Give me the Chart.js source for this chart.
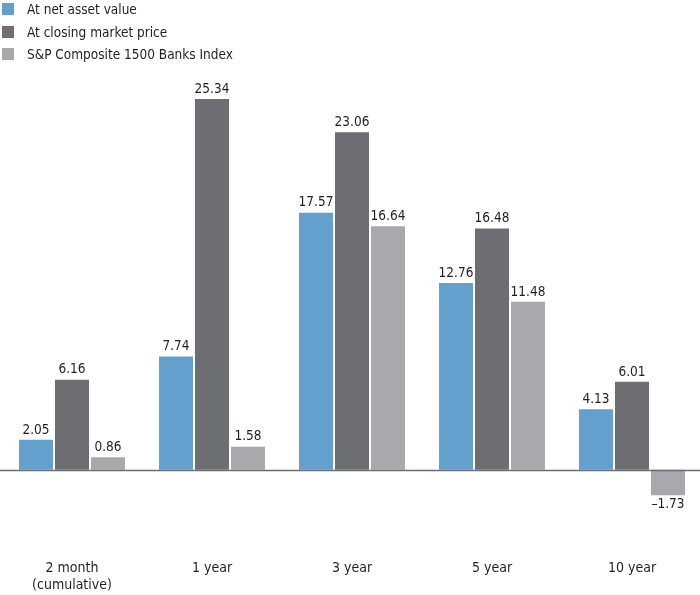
<!DOCTYPE html>
<html>
<head>
<meta charset="utf-8">
<script src="https://cdn.jsdelivr.net/npm/chart.js@4.4.1/dist/chart.umd.min.js"></script>
<style>
  body { margin: 0; overflow: hidden; background: #fff; }
  #wrap { position: relative; width: 700px; height: 595px; overflow: hidden; }
  #mycanvas { position: absolute; left: 0; top: 0; }
  #legend { position: absolute; left: 2px; top: 0; font-family: "DejaVu Sans Condensed", "Liberation Sans", sans-serif; font-size: 13.5px; color: #231f20; }
  #legend div { height: 22.5px; line-height: 18px; white-space: nowrap; }
  #legend span { display: inline-block; width: 12px; height: 12px; margin-right: 13px; vertical-align: -1px; }
</style>
</head>
<body>
<div id="wrap">
  <canvas id="mycanvas" width="702" height="595"></canvas>
  <div id="legend"></div>
</div>
<script>
var categories = [["2 month", "(cumulative)"], "1 year", "3 year", "5 year", "10 year"];
var seriesNames = ["At net asset value", "At closing market price", "S&P Composite 1500 Banks Index"];
var navValues = [2.05, 7.74, 17.57, 12.76, 4.13];
var marketValues = [6.16, 25.34, 23.06, 16.48, 6.01];
var indexValues = [0.86, 1.58, 16.64, 11.48, -1.73];
var colors = ["#63a0ce", "#6d6e71", "#a7a9ac"];

var legendHtml = "";
for (var i in seriesNames) {
	legendHtml += '<div><span style="background:' + colors[i] + '"></span>' + seriesNames[i].replace("&", "&amp;") + '</div>';
}
document.getElementById("legend").innerHTML = legendHtml;

var fontFamily = '"DejaVu Sans Condensed", "Liberation Sans", sans-serif';

// value labels above (or below) each bar
var valueLabels = {
	id: "valueLabels",
	afterDatasetsDraw: function(chart) {
		var ctx = chart.ctx;
		ctx.save();
		ctx.font = "13.5px " + fontFamily;
		ctx.fillStyle = "#231f20";
		ctx.textAlign = "center";
		chart.data.datasets.forEach(function(ds, di) {
			chart.getDatasetMeta(di).data.forEach(function(bar, j) {
				var v = ds.data[j];
				var txt = v < 0 ? "\u2013" + Math.abs(v).toFixed(2) : v.toFixed(2);
				if (v >= 0) {
					ctx.textBaseline = "bottom";
					ctx.fillText(txt, bar.x, bar.y - 3);
				} else {
					ctx.textBaseline = "top";
					ctx.fillText(txt, bar.x, bar.y + 3);
				}
			});
		});
		ctx.restore();
	}
};

// zero line across the full width
var zeroLine = {
	id: "zeroLine",
	afterDatasetsDraw: function(chart) {
		var ctx = chart.ctx;
		var y = Math.round(chart.scales.y.getPixelForValue(0)) + 0.5;
		ctx.save();
		ctx.strokeStyle = "#6d6e71";
		ctx.lineWidth = 1.5;
		ctx.beginPath();
		ctx.moveTo(0, y);
		ctx.lineTo(chart.width, y);
		ctx.stroke();
		ctx.restore();
	}
};

var chartdata = {
	labels: categories,
	datasets: [
		{ label: seriesNames[0], data: navValues, backgroundColor: colors[0] },
		{ label: seriesNames[1], data: marketValues, backgroundColor: colors[1] },
		{ label: seriesNames[2], data: indexValues, backgroundColor: colors[2] }
	]
};

var ctx = document.getElementById("mycanvas");
var barChart = new Chart(ctx, {
	type: "bar",
	data: chartdata,
	plugins: [zeroLine, valueLabels],
	options: {
		responsive: false,
		animation: false,
		layout: { padding: { left: 2, right: 0, top: 60, bottom: 0 } },
		datasets: {
			bar: { categoryPercentage: 108 / 140, barPercentage: 34 / 36 }
		},
		plugins: {
			legend: { display: false },
			tooltip: { enabled: false }
		},
		scales: {
			x: {
				grid: { display: false, drawTicks: false },
				border: { display: false },
				afterFit: function(s) { s.height = 52; },
				ticks: {
					padding: 17,
					color: "#231f20",
					font: { family: fontFamily, size: 14 }
				}
			},
			y: {
				display: false,
				min: -5,
				max: 28
			}
		}
	}
});
</script>
</body>
</html>
